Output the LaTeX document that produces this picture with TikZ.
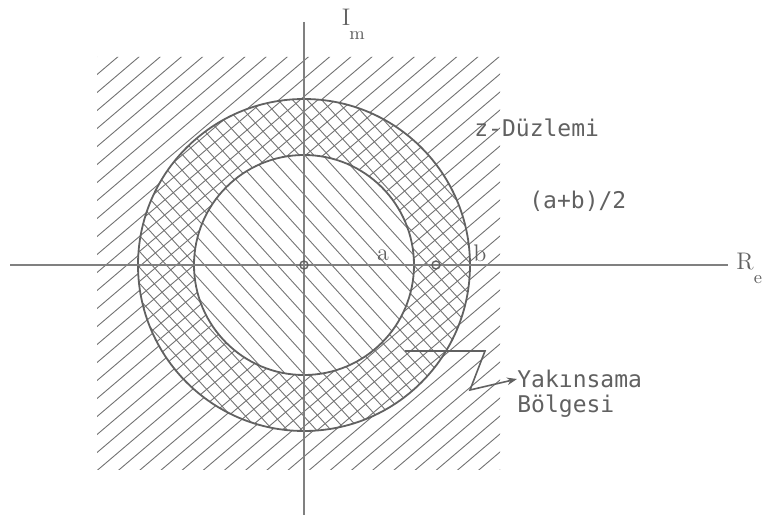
\documentclass[tikz,border=0pt]{standalone}
\usepackage{fontspec}
\newfontfamily\labfont{DejaVu Sans Mono}
\usetikzlibrary{arrows.meta}
\definecolor{ink}{gray}{0.38}
\definecolor{axisc}{gray}{0.5}
\definecolor{hatch}{gray}{0.45}
\tikzset{
  hatchline/.style={draw=hatch, line width=0.45pt},
  axisline/.style={draw=axisc, line width=0.9pt},
  circleline/.style={draw=ink, line width=0.9pt},
  lab/.style={text=ink, inner sep=0pt, font=\labfont\fontsize{11.5}{13}\selectfont},
  serlab/.style={text=ink, inner sep=0pt, font=\fontsize{12}{14}\selectfont},
  sublab/.style={text=ink, inner sep=0pt, font=\fontsize{9}{11}\selectfont}
}
\begin{document}
\begin{tikzpicture}[x=0.5pt,y=-0.5pt]
\useasboundingbox (0,0) rectangle (773,519);
\coordinate (O) at (304,265);
% "/" hatching in square outside outer circle
\begin{scope}[even odd rule]
  \clip (97,57) rectangle (500,470) (O) circle (166);
  \foreach \c in {139,157,...,900} {
    \draw[hatchline] (-100,\c+85) -- (900,\c-765);
  }
\end{scope}
% annulus crosshatching
\begin{scope}[even odd rule]
  \clip (O) circle (166) (O) circle (110);
  \foreach \c in {100,115,...,900} {
    \draw[hatchline] (-100,\c+85) -- (900,\c-765);
  }
  \foreach \c in {-430,-414,...,300} {
    \draw[hatchline] (-100,\c-110) -- (900,\c+990);
  }
\end{scope}
% inner disk "\" hatching
\begin{scope}
  \clip (O) circle (110);
  \foreach \c in {-420,-400,...,300} {
    \draw[hatchline] (-100,\c-110) -- (900,\c+990);
  }
\end{scope}
% circles
\draw[circleline] (O) circle (166);
\draw[circleline] (O) circle (110);
% axes
\coordinate (xl) at (10,265);
\coordinate (xr) at (728,265);
\coordinate (yt) at (304,22);
\coordinate (yb) at (304,515);
\draw[axisline] (xl) -- (xr);
\draw[axisline] (yt) -- (yb);
% small circles
\draw[ink, line width=0.7pt] (O) circle (4);
\coordinate (M) at (436,265);
\draw[ink, line width=0.7pt] (M) circle (4);
% labels
\node[serlab] (Im) at (346,17) {I};
\node[sublab] (Ims) at (357,36) {m};
\node[serlab] (Re) at (745,262) {R};
\node[sublab] (Res) at (758,280) {e};
\node[serlab] (la) at (383,255) {a};
\node[serlab] (lb) at (480,253) {b};
\node[lab, anchor=west] (zd) at (474,128) {z-Düzlemi};
\node[lab, anchor=west] (ab) at (529,201) {(a+b)/2};
\node[lab, anchor=west] (yk) at (517,379) {Yakınsama};
\node[lab, anchor=west] (bg) at (517,406) {Bölgesi};
% pointer
\coordinate (p0) at (405,351);
\coordinate (p1) at (485,351);
\coordinate (p2) at (470,390);
\draw[ink, line width=0.8pt, -{Stealth[length=5pt]}] (p0) -- (p1) -- (p2) -- (yk.west);
\end{tikzpicture}
\end{document}
